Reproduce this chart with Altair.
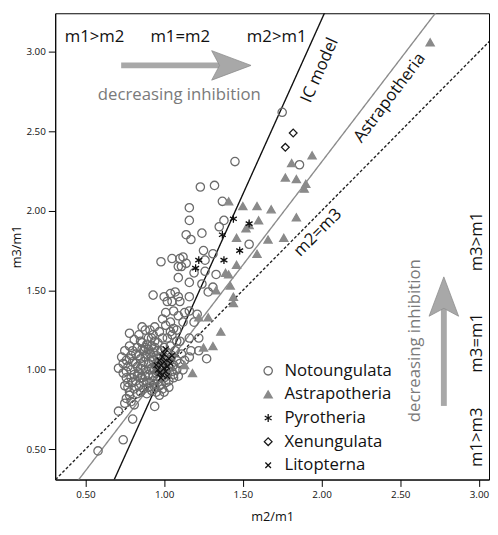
import altair as alt
import pandas as pd

FONT = "Open Sans"
groups = ["Notoungulata", "Astrapotheria", "Pyrotheria", "Xenungulata", "Litopterna"]

# ---- Notoungulata (open circles) ----
noto_x = [1.75, 1.45, 1.86, 1.23, 1.32, 1.37, 1.16, 1.16, 1.38, 1.35, 1.24, 1.14, 1.17, 1.54,
          0.98, 1.05, 1.10, 1.12, 1.09, 1.11, 1.14, 1.25, 1.31, 1.26, 1.19, 1.26, 1.33, 1.09,
          1.16, 1.24, 1.31, 1.28,
          0.93, 1.00, 1.04, 1.07, 1.09, 1.05, 1.10, 1.16, 1.02,
          1.01, 1.06, 1.09, 1.13, 1.16, 1.21, 0.99, 1.04, 1.12, 1.19, 0.86, 0.78, 1.04, 1.08,
          1.16, 1.22, 1.10, 1.22, 1.17, 1.16, 1.27,
          1.06, 1.01, 1.00, 0.94, 0.71, 0.74, 0.76, 0.77, 0.78, 0.94, 0.76, 0.75, 0.79, 0.81,
          0.71, 0.80, 0.74, 0.58,
          0.79, 0.80, 0.81, 0.82, 0.82, 0.83, 0.83, 0.84, 0.84, 0.85, 0.85, 0.86, 0.86, 0.87,
          0.87, 0.88, 0.88, 0.89, 0.89, 0.90, 0.90, 0.80, 0.81, 0.78, 0.83,
          0.91, 0.91, 0.92, 0.92, 0.93, 0.93, 0.94, 0.94, 0.95, 0.95, 0.96, 0.96, 0.97, 0.97,
          0.98, 0.98, 0.99, 0.99, 1.00, 1.00, 0.91, 0.93, 0.95, 0.97, 0.99,
          1.01, 1.01, 1.02, 1.02, 1.03, 1.03, 1.04, 1.04, 1.05, 1.05, 1.06, 1.06, 1.07, 1.08,
          1.08, 1.09, 1.10, 1.11, 1.12, 1.13, 1.02, 1.05, 1.08, 1.00, 1.03,
          0.84, 0.88, 0.86, 0.90, 0.92, 0.94, 0.97, 0.99, 1.01, 1.06, 0.89, 0.92, 0.87, 0.85,
          0.96, 0.98, 0.94, 0.96, 1.00, 1.02,
          0.74, 0.76, 0.77, 0.79, 0.75, 0.78,
          0.73, 0.75, 0.77, 0.78, 0.80, 0.81, 0.82, 0.84, 0.85, 0.86, 0.87, 0.88, 0.89, 0.90,
          0.91, 0.92, 0.93, 0.94, 0.95, 0.96, 0.97, 0.98, 0.83, 0.79, 0.76, 0.85, 0.88, 0.90,
          0.93, 0.95]
noto_y = [2.62, 2.31, 2.29, 2.15, 2.16, 2.06, 2.02, 1.94, 1.94, 1.90, 1.86, 1.85, 1.82, 1.79,
          1.68, 1.70, 1.70, 1.71, 1.65, 1.65, 1.67, 1.75, 1.73, 1.69, 1.61, 1.62, 1.60, 1.58,
          1.55, 1.54, 1.52, 1.49,
          1.47, 1.46, 1.48, 1.49, 1.46, 1.43, 1.43, 1.46, 1.43,
          1.36, 1.37, 1.34, 1.36, 1.37, 1.35, 1.32, 1.30, 1.30, 1.30, 1.27, 1.23, 1.24, 1.25,
          1.20, 1.20, 1.18, 1.12, 1.12, 1.08, 1.07,
          0.97, 0.92, 0.86, 0.91, 1.01, 1.04, 0.95, 0.89, 0.86, 0.77, 0.82, 0.79, 0.80, 0.78,
          0.74, 0.69, 0.56, 0.49,
          1.00, 1.05, 0.97, 1.10, 0.93, 1.02, 1.14, 0.98, 0.90, 1.07, 1.18, 0.95, 1.03, 1.12,
          0.88, 1.00, 1.08, 0.93, 1.16, 1.04, 0.97, 1.12, 0.88, 1.07, 0.85,
          1.10, 0.92, 1.01, 1.20, 0.96, 1.06, 1.14, 0.89, 1.02, 1.09, 0.94, 1.17, 1.00, 1.05,
          0.91, 1.12, 0.98, 1.03, 1.08, 0.95, 1.25, 1.22, 0.86, 0.84, 0.88,
          1.00, 1.04, 0.97, 1.11, 1.02, 0.93, 1.06, 1.15, 0.99, 1.09, 1.03, 0.95, 1.12, 1.00,
          1.06, 0.96, 1.04, 1.10, 1.00, 1.06, 1.20, 1.22, 1.18, 1.14, 0.89,
          1.22, 1.25, 1.17, 1.13, 1.15, 1.27, 1.24, 1.20, 1.28, 1.26, 0.85, 0.87, 0.92, 0.86,
          0.99, 1.01, 1.00, 1.07, 1.01, 1.06,
          0.98, 1.06, 0.92, 0.95, 0.90, 0.84,
          1.08, 1.12, 1.02, 1.15, 0.92, 1.19, 1.04, 1.09, 0.95, 1.13, 1.05, 0.96, 1.10, 1.20,
          1.00, 1.08, 0.93, 1.18, 0.98, 1.12, 0.90, 1.08, 0.96, 1.09, 0.99, 1.01, 1.14, 0.89,
          1.11, 1.04]

# ---- Astrapotheria (filled triangles) ----
astra_x = [2.69, 1.94, 1.81, 1.77, 1.84, 1.90, 1.89, 1.84, 1.76, 1.66, 1.60, 1.54, 1.50, 1.41,
           1.46, 1.59, 1.46, 1.41, 1.42, 1.33, 1.39, 1.44, 1.44, 1.28, 1.22, 1.36, 1.31, 1.25,
           1.18, 1.13, 1.52, 1.68, 1.59]
astra_y = [3.06, 2.35, 2.30, 2.21, 2.20, 2.17, 2.14, 1.96, 1.83, 1.82, 1.94, 1.91, 2.03, 2.06,
           1.83, 1.73, 1.66, 1.60, 1.53, 1.50, 1.61, 1.46, 1.42, 1.33, 1.33, 1.24, 1.15, 1.14,
           0.98, 1.03, 1.89, 2.01, 2.03]

# ---- Pyrotheria (stars) ----
pyro_x = [1.44, 1.54, 1.37, 1.48, 1.38, 1.22, 1.20]
pyro_y = [1.95, 1.92, 1.85, 1.75, 1.69, 1.69, 1.64]

# ---- Xenungulata (open diamonds) ----
xenu_x = [1.82, 1.77]
xenu_y = [2.49, 2.40]

# ---- Litopterna (x marks) ----
lito_x = [0.96, 0.98, 1.00, 1.01, 0.99, 1.02, 1.03, 0.97, 1.00, 1.04, 0.98, 1.01,
          0.95, 0.99, 1.02, 1.05, 0.97, 1.00]
lito_y = [1.00, 1.03, 1.05, 0.99, 0.97, 1.02, 1.07, 1.06, 1.10, 1.04, 0.95, 1.13,
          1.03, 1.08, 0.96, 1.09, 0.98, 1.01]

# ---- reference lines: y = slope * x + intercept ----
line_names = ["IC model", "Astrapotheria", "m2=m3"]
line_slopes = [2.197, 1.295, 1.0]
line_intercepts = [-1.191, -0.283, 0.0]

X_DOMAIN = [0.308, 3.064]
Y_DOMAIN = [0.31, 3.243]
TICKS = [0.5, 1.0, 1.5, 2.0, 2.5, 3.0]

rows = []
for g, xs, ys in zip(groups, [noto_x, astra_x, pyro_x, xenu_x, lito_x],
                     [noto_y, astra_y, pyro_y, xenu_y, lito_y]):
    for a, b in zip(xs, ys):
        rows.append({"m2m1": a, "m3m1": b, "group": g})
df = pd.DataFrame(rows)

lrows = []
for n, s, i in zip(line_names, line_slopes, line_intercepts):
    for xv in [0.2, 3.2]:
        lrows.append({"m2m1": xv, "m3m1": s * xv + i, "line": n})
ldf = pd.DataFrame(lrows)


def X(field="m2m1"):
    return alt.X(field, type="quantitative",
                 scale=alt.Scale(domain=X_DOMAIN, nice=False, zero=False),
                 axis=alt.Axis(values=TICKS, format=".2f", title="m2/m1", grid=False))


def Y(field="m3m1"):
    return alt.Y(field, type="quantitative",
                 scale=alt.Scale(domain=Y_DOMAIN, nice=False, zero=False),
                 axis=alt.Axis(values=TICKS, format=".2f", title="m3/m1", grid=False))


STAR = "M0,-1L0,1M-0.87,-0.5L0.87,0.5M-0.87,0.5L0.87,-0.5"
XMARK = "M-0.75,-0.75L0.75,0.75M-0.75,0.75L0.75,-0.75"

lines = alt.Chart(ldf).mark_line(clip=True).encode(
    x=X(), y=Y(),
    color=alt.Color("line:N", scale=alt.Scale(domain=line_names,
                    range=["#111111", "#8c8c8c", "#222222"]), legend=None),
    strokeDash=alt.StrokeDash("line:N", scale=alt.Scale(domain=line_names,
                              range=[[1, 0], [1, 0], [3, 2]]), legend=None),
    strokeWidth=alt.StrokeWidth("line:N", scale=alt.Scale(domain=line_names,
                                range=[1.4, 1.4, 0.9]), legend=None),
)

legend = alt.Legend(title=None, orient="none", legendX=208, legendY=355,
                    labelFont=FONT, labelFontSize=17, labelColor="#111",
                    rowPadding=6, labelOffset=8, padding=0, symbolStrokeWidth=1.3)

points = alt.Chart(df).mark_point(opacity=1, strokeWidth=1.3, clip=True).encode(
    x=X(), y=Y(),
    shape=alt.Shape("group:N", scale=alt.Scale(domain=groups,
                    range=["circle", "triangle-up", STAR, "diamond", XMARK]), legend=legend),
    stroke=alt.Stroke("group:N", scale=alt.Scale(domain=groups,
                      range=["#6b6b6b", "#8a8a8a", "#111111", "#1a1a1a", "#111111"]), legend=legend),
    fill=alt.Fill("group:N", scale=alt.Scale(domain=groups,
                  range=["transparent", "#8a8a8a", "transparent", "transparent", "transparent"]),
                  legend=legend),
    size=alt.Size("group:N", scale=alt.Scale(domain=groups, range=[72, 58, 95, 80, 55]),
                  legend=legend),
)


def label(text, x, y, angle=0, size=17, color="#111111"):
    d = pd.DataFrame({"m2m1": [x], "m3m1": [y], "t": [text]})
    return alt.Chart(d).mark_text(angle=angle, fontSize=size, font=FONT, color=color,
                                  align="center", baseline="middle").encode(
        x=X(), y=Y(), text="t:N")


texts = [
    label("m1>m2", 0.558, 3.095),
    label("m1=m2", 1.102, 3.095),
    label("m2>m1", 1.715, 3.095),
    label("decreasing inhibition", 1.096, 2.73, color="#7a7a7a"),
    label("decreasing inhibition", 2.596, 1.183, angle=270, color="#7a7a7a"),
    label("m3>m1", 2.99, 1.807, angle=270),
    label("m3=m1", 2.99, 1.17, angle=270),
    label("m1>m3", 2.99, 0.576, angle=270),
    label("IC model", 1.989, 2.884, angle=294),
    label("Astrapotheria", 2.433, 2.711, angle=307),
    label("m2=m3", 1.977, 1.863, angle=315),
]

# arrows
ARROW = "#a8a8a8"
HEAD_R = "M1,0L-1,-0.75L-0.6,0L-1,0.75Z"
HEAD_U = "M0,-1L-0.75,1L0,0.6L0.75,1Z"
hs = pd.DataFrame({"m2m1": [0.727], "x2": [1.36], "m3m1": [2.915]})
h_shaft = alt.Chart(hs).mark_rule(strokeWidth=6, color=ARROW).encode(
    x=X(), x2="x2", y=Y())
hh = pd.DataFrame({"m2m1": [1.427], "m3m1": [2.915]})
h_head = alt.Chart(hh).mark_point(shape=HEAD_R, size=1600, filled=True, fill=ARROW,
                                  stroke="#8c8c8c", strokeWidth=0.8, opacity=1).encode(
    x=X(), y=Y())
vs = pd.DataFrame({"m2m1": [2.777], "m3m1": [0.773], "y2": [1.40]})
v_shaft = alt.Chart(vs).mark_rule(strokeWidth=6, color=ARROW).encode(
    x=X(), y=Y(), y2="y2")
vh = pd.DataFrame({"m2m1": [2.777], "m3m1": [1.461]})
v_head = alt.Chart(vh).mark_point(shape=HEAD_U, size=1600, filled=True, fill=ARROW,
                                  stroke="#8c8c8c", strokeWidth=0.8, opacity=1).encode(
    x=X(), y=Y())

chart = alt.layer(lines, h_shaft, h_head, v_shaft, v_head, points, *texts).properties(
    width=441, height=474,
    autosize=alt.AutoSizeParams(type="none"),
    padding={"left": 48, "top": 1, "right": 1, "bottom": 50},
    background="white",
).configure_view(stroke="#000000", strokeWidth=1).configure_axis(
    labelFont=FONT, labelFontSize=10, labelColor="#111111",
    titleFont=FONT, titleFontSize=13, titleFontWeight="normal", titleColor="#111111",
    domainColor="#000000", tickColor="#000000", tickSize=7, labelPadding=3,
).configure_axisY(titlePadding=3).configure_axisX(titlePadding=12)

chart.save("out.html", embed_options={"renderer": "svg", "actions": False})
